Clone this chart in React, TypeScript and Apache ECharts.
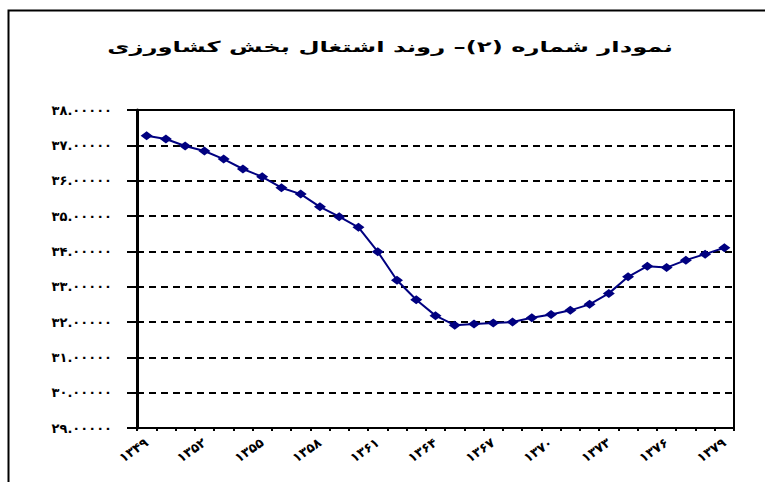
import React, { useEffect, useRef } from "react";
import * as echarts from "echarts";

const title = "نمودار شماره (۲)– روند اشتغال بخش کشاورزی";

const years = [
  "۱۳۴۹", "۱۳۵۰", "۱۳۵۱", "۱۳۵۲", "۱۳۵۳", "۱۳۵۴", "۱۳۵۵", "۱۳۵۶", "۱۳۵۷", "۱۳۵۸",
  "۱۳۵۹", "۱۳۶۰", "۱۳۶۱", "۱۳۶۲", "۱۳۶۳", "۱۳۶۴", "۱۳۶۵", "۱۳۶۶", "۱۳۶۷", "۱۳۶۸",
  "۱۳۶۹", "۱۳۷۰", "۱۳۷۱", "۱۳۷۲", "۱۳۷۳", "۱۳۷۴", "۱۳۷۵", "۱۳۷۶", "۱۳۷۷", "۱۳۷۸",
  "۱۳۷۹",
];

const employmentShare = [
  37.27, 37.18, 36.98, 36.84, 36.61, 36.33, 36.11, 35.8, 35.62, 35.26,
  34.98, 34.68, 33.99, 33.18, 32.63, 32.18, 31.91, 31.94, 31.97, 32.0,
  32.12, 32.21, 32.33, 32.5, 32.81, 33.28, 33.58, 33.54, 33.75, 33.92,
  34.1,
];

const yTickValues = [29, 30, 31, 32, 33, 34, 35, 36, 37, 38];
const yTickLabels = [
  "۲۹.۰۰۰۰۰", "۳۰.۰۰۰۰۰", "۳۱.۰۰۰۰۰", "۳۲.۰۰۰۰۰", "۳۳.۰۰۰۰۰",
  "۳۴.۰۰۰۰۰", "۳۵.۰۰۰۰۰", "۳۶.۰۰۰۰۰", "۳۷.۰۰۰۰۰", "۳۸.۰۰۰۰۰",
];

export default function App() {
  const ref = useRef<HTMLDivElement>(null);
  useEffect(() => {
    if (!ref.current) return;
    const chart = echarts.init(ref.current, null, { renderer: "svg" });
    chart.setOption({
      animation: false,
      backgroundColor: "#ffffff",
      graphic: [
        {
          type: "rect",
          z: -10,
          silent: true,
          shape: { x: 8.5, y: 10.5, width: 900, height: 900 },
          style: { fill: "none", stroke: "#000", lineWidth: 2 },
        },
        {
          type: "text",
          silent: true,
          x: 390,
          y: 47,
          scaleX: 1.62,
          style: {
            text: title,
            align: "center",
            verticalAlign: "middle",
            fontFamily: "DejaVu Sans",
            fontWeight: "bold",
            fontSize: 15,
            fill: "#000",
          },
        },
      ],
      grid: { left: 137, right: 31, top: 110, bottom: 54, show: true, borderColor: "#000", borderWidth: 2, backgroundColor: "transparent" },
      xAxis: {
        type: "category",
        data: years,
        boundaryGap: true,
        axisLine: { lineStyle: { color: "#000", width: 2 } },
        axisTick: { show: true, interval: 0, length: 3, lineStyle: { color: "#000", width: 2 } },
        axisLabel: {
          interval: 2,
          rotate: 35,
          margin: 13,
          fontFamily: "DejaVu Sans",
          fontWeight: "bold",
          fontSize: 13,
          color: "#000",
        },
        splitLine: { show: false },
      },
      yAxis: {
        type: "value",
        min: 29,
        max: 38,
        interval: 1,
        axisLine: { show: true, lineStyle: { color: "#000", width: 3 } },
        axisTick: { show: true, length: 10, lineStyle: { color: "#000", width: 2 } },
        axisLabel: {
          margin: 25,
          fontFamily: "DejaVu Sans",
          fontWeight: "bold",
          fontSize: 13,
          color: "#000",
          formatter: (v: number) => {
            const i = yTickValues.indexOf(Math.round(v));
            return i >= 0 ? yTickLabels[i] : "";
          },
        },
        splitLine: { show: true, lineStyle: { color: "#000", width: 2, type: [7, 5] } },
      },
      series: [
        {
          type: "line",
          data: employmentShare,
          symbol: "diamond",
          symbolSize: [12, 9],
          itemStyle: { color: "#000080" },
          lineStyle: { color: "#000080", width: 2 },
        },
      ],
    });
    return () => chart.dispose();
  }, []);
  return (
    <div
      ref={ref}
      style={{ position: "fixed", left: 0, top: 0, width: 765, height: 482 }}
    />
  );
}
